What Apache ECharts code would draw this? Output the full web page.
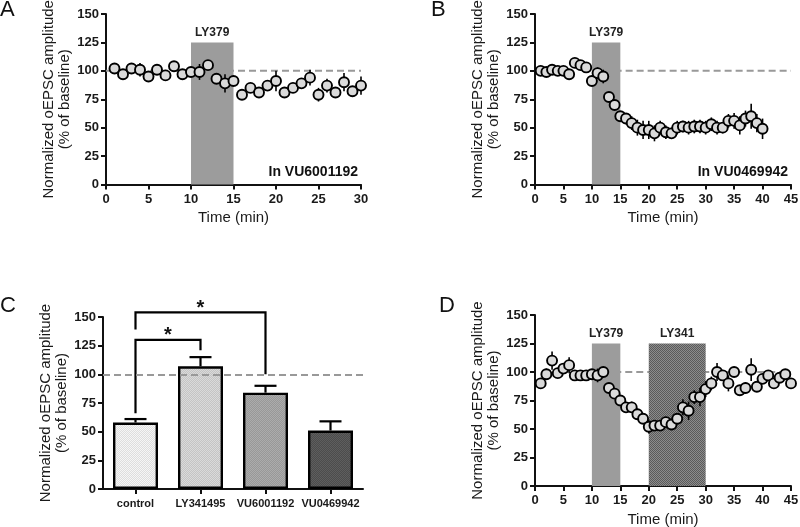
<!DOCTYPE html>
<html><head><meta charset="utf-8">
<script src="https://cdn.jsdelivr.net/npm/echarts@6/dist/echarts.min.js"></script>
<style>html,body{margin:0;padding:0;background:#fff}#c{width:800px;height:527px}</style>
</head><body><div id="c"></div><script>
// ---------- data ----------
const timeA = [1,2,3,4,5,6,7,8,9,10,11,12,13,14,15,16,17,18,19,20,21,22,23,24,25,26,27,28,29,30];
const meanA = [102,97,102,101,95,101,96,104,97,99,99,105,93,89,91,79,85,81,87,91,81,85,89,94,79,87,81,90,82,87];
const semA  = [3,3,3,6,4,4,4,3,3,3,7,4,4,8,3,3,4,4,4,9,3,3,4,7,6,6,3,8,3,8];

const timeB = [1,2,3,4,5,6,7,8,9,10,11,12,13,14,15,16,17,18,19,20,21,22,23,24,25,26,27,28,29,30,31,32,33,34,35,36,37,38,39,40];
const meanB = [100,99,101,100,100,97,107,105,103,91,98,95,77,70,60,58,54,50,48,48,45,50,46,45,50,51,50,51,51,50,53,50,50,56,56,52,58,60,54,49];
const semB  = [3,3,3,3,3,3,3,3,3,4,5,6,4,3,4,5,6,7,8,8,7,6,6,5,6,5,6,6,6,6,6,6,5,6,7,8,7,11,8,9];

const timeD = [1,2,3,4,5,6,7,8,9,10,11,12,13,14,15,16,17,18,19,20,21,22,23,24,25,26,27,28,29,30,31,32,33,34,35,36,37,38,39,40,41,42,43,44,45];
const meanD = [90,98,110,99,103,106,97,97,97,98,97,100,86,81,75,69,69,63,59,52,53,53,56,54,59,69,66,78,78,85,90,100,97,90,100,84,86,102,87,94,97,90,95,98,90];
const semD  = [4,5,8,3,4,7,3,3,3,4,6,3,3,3,3,5,5,5,4,6,3,3,3,5,4,7,8,6,8,7,6,8,4,7,3,4,5,10,4,4,3,3,3,4,3];

const groupsC = ['control','LY341495','VU6001192','VU0469942'];
const meanC = [58,107,84,51];
const semC  = [3,8,6,8];
// brackets: [fromGroup, toGroup, level, leftLegEnd, rightLegEnd]
const bracketsC = [[0,1,130,66,121],[0,2,154,139,100]];

// drug application boxes: [start, end, top]
const boxesA = [[10,15,125]]; const boxLabelsA = ['LY379'];
const boxesB = [[10,15,125]]; const boxLabelsB = ['LY379'];
const boxesD = [[10,15,125],[20,30,125]]; const boxLabelsD = ['LY379','LY341'];
// baseline dashed line spans [start, end] at 100 %
const baseline = 100;
const dashA = [0,30], dashB = [14,45], dashD = [12,45];

const xTicksMax = {A:30, B:45, D:45};
const yMax = 150, yStep = 25, xStep = 5;

// ---------- styling helpers ----------
const FONT = '"Liberation Sans", Arial, sans-serif';
function pattern(base, dot){
  const c = document.createElement('canvas'); c.width = 2; c.height = 2;
  const g = c.getContext('2d');
  g.fillStyle = base; g.fillRect(0,0,2,2);
  g.fillStyle = dot; g.fillRect(1,0,1,1); g.fillRect(0,1,1,1);
  return {image: c, repeat: 'repeat'};
}
const barFills = [pattern('#f6f6f6','#dedede'), pattern('#dadada','#c4c4c4'), pattern('#acacac','#989898'), pattern('#5e5e5e','#4c4c4c')];
const boxFillPlain = '#9c9c9c';
const boxFillHatch = pattern('#5a5a5a','#8c8c8c');

const axisLine = {show:true, onZero:false, lineStyle:{color:'#111', width:2}};
const axisTick = {show:true, length:5, lineStyle:{color:'#111', width:2}};
const tickLabel = {color:'#1a1a1a', fontSize:13, fontWeight:'bold', fontFamily:FONT, margin:7};
const yName = 'Normalized oEPSC amplitude\n(% of baseline)';

function xTime(gi, max){
  return {gridIndex:gi, type:'value', min:0, max:max, interval:xStep,
    axisLine, axisTick, axisLabel:Object.assign({}, tickLabel, {margin:8}), splitLine:{show:false},
    name:'Time (min)', nameLocation:'middle', nameGap:26,
    nameTextStyle:{color:'#1a1a1a', fontSize:15, fontFamily:FONT}};
}
function yPct(gi){
  return {gridIndex:gi, type:'value', min:0, max:yMax, interval:yStep,
    axisLine, axisTick, axisLabel:tickLabel, splitLine:{show:false},
    name:yName, nameLocation:'middle', nameGap:33,
    nameTextStyle:{color:'#1a1a1a', fontSize:15, fontFamily:FONT, lineHeight:16}};
}

function errRender(params, api){
  const x = api.value(0), y = api.value(1), e = api.value(2);
  const p1 = api.coord([x, y - e]), p2 = api.coord([x, y + e]);
  return {type:'line', shape:{x1:p1[0], y1:p1[1], x2:p2[0], y2:p2[1]}, style:{stroke:'#000', lineWidth:1.6}};
}
function boxRender(labels, fills){
  return function(params, api){
    const s = api.value(0), e = api.value(1), top = api.value(2);
    const p0 = api.coord([s, top]), p1 = api.coord([e, 0]);
    return {type:'group', children:[
      {type:'rect', shape:{x:p0[0], y:p0[1], width:p1[0]-p0[0], height:p1[1]-p0[1]}, style:{fill:fills[params.dataIndex]}},
      {type:'text', style:{text:labels[params.dataIndex], x:(p0[0]+p1[0])/2, y:p0[1]-4, align:'center', verticalAlign:'bottom',
        fill:'#222', font:'bold 12px ' + FONT}}
    ]};
  };
}
function timeSeries(gi, times, means, sems, boxes, labels, fills, dash){
  return [
    {type:'line', xAxisIndex:gi, yAxisIndex:gi, z:1, silent:true, symbol:'none',
      data:[[dash[0], baseline],[dash[1], baseline]], lineStyle:{color:'#999', width:2, type:[7,4]}},
    {type:'custom', xAxisIndex:gi, yAxisIndex:gi, z:2, silent:true, renderItem:boxRender(labels, fills),
      encode:{x:[0,1], y:2}, data:boxes},
    {type:'custom', xAxisIndex:gi, yAxisIndex:gi, z:3, silent:true, renderItem:errRender,
      encode:{x:0, y:1}, data:times.map((t,i)=>[t, means[i], sems[i]])},
    {type:'scatter', xAxisIndex:gi, yAxisIndex:gi, z:4, symbol:'circle', symbolSize:10,
      itemStyle:{color:'#dadada', borderColor:'#000', borderWidth:1.9, opacity:1},
      data:times.map((t,i)=>[t, means[i]])}
  ];
}

const chart = echarts.init(document.getElementById('c'), null, {renderer:'canvas'});
const gridBase = {outerBoundsMode:'none', containLabel:false};
const option = {
  backgroundColor:'#fff',
  animation:false,
  grid:[
    Object.assign({left:106, top:14, width:255, height:170.5}, gridBase),
    Object.assign({left:535, top:14, width:256, height:170.5}, gridBase),
    Object.assign({left:103, top:317, width:260, height:172}, gridBase),
    Object.assign({left:535, top:315, width:256, height:171}, gridBase)
  ],
  xAxis:[
    xTime(0, xTicksMax.A),
    xTime(1, xTicksMax.B),
    {gridIndex:2, type:'category', data:groupsC, boundaryGap:true,
      axisLine, axisTick:Object.assign({alignWithLabel:true}, axisTick),
      axisLabel:{color:'#1a1a1a', fontSize:11, fontWeight:'bold', fontFamily:FONT, margin:9, interval:0}},
    xTime(3, xTicksMax.D)
  ],
  yAxis:[yPct(0), yPct(1), yPct(2), yPct(3)],
  graphic:[
    {type:'text', left:0, top:-1, style:{text:'A', font:'22px ' + FONT, fill:'#111'}},
    {type:'text', left:431, top:-1, style:{text:'B', font:'22px ' + FONT, fill:'#111'}},
    {type:'text', left:0, top:295, style:{text:'C', font:'22px ' + FONT, fill:'#111'}},
    {type:'text', left:439, top:295, style:{text:'D', font:'22px ' + FONT, fill:'#111'}},
    {type:'text', right:442, top:165, style:{text:'In VU6001192', font:'bold 14px ' + FONT, fill:'#111'}},
    {type:'text', right:12, top:165, style:{text:'In VU0469942', font:'bold 14px ' + FONT, fill:'#111'}}
  ],
  series:[].concat(
    timeSeries(0, timeA, meanA, semA, boxesA, boxLabelsA, [boxFillPlain], dashA),
    timeSeries(1, timeB, meanB, semB, boxesB, boxLabelsB, [boxFillPlain], dashB),
    timeSeries(3, timeD, meanD, semD, boxesD, boxLabelsD, [boxFillPlain, boxFillHatch], dashD),
    [
      {type:'line', xAxisIndex:2, yAxisIndex:2, z:1, silent:true, data:[], symbol:'none',
        markLine:{silent:true, symbol:'none', label:{show:false}, lineStyle:{color:'#999', width:2, type:[7,4]},
          data:[{yAxis:baseline}]}},
      {type:'bar', xAxisIndex:2, yAxisIndex:2, z:2, barWidth:45,
        data:meanC.map((v,i)=>({value:v, itemStyle:{color:barFills[i], borderColor:'#000', borderWidth:2.4}}))},
      {type:'custom', xAxisIndex:2, yAxisIndex:2, z:3, silent:true, encode:{x:0, y:1},
        data:meanC.map((v,i)=>[i, v, semC[i]]),
        renderItem:function(params, api){
          const i = api.value(0), m = api.value(1), s = api.value(2);
          const p0 = api.coord([i, m]), p1 = api.coord([i, m + s]);
          return {type:'group', children:[
            {type:'line', shape:{x1:p0[0], y1:p0[1], x2:p1[0], y2:p1[1]}, style:{stroke:'#000', lineWidth:2.2}},
            {type:'line', shape:{x1:p1[0]-11, y1:p1[1], x2:p1[0]+11, y2:p1[1]}, style:{stroke:'#000', lineWidth:2.2}}
          ]};
        }},
      {type:'custom', xAxisIndex:2, yAxisIndex:2, z:4, silent:true, clip:false, encode:{x:[0,1], y:[2,3,4]},
        data:bracketsC,
        renderItem:function(params, api){
          const a = api.value(0), b = api.value(1), lvl = api.value(2), lb = api.value(3), rb = api.value(4);
          const pa0 = api.coord([a, lb]), pa1 = api.coord([a, lvl]), pb1 = api.coord([b, lvl]), pb0 = api.coord([b, rb]);
          return {type:'group', children:[
            {type:'polyline', shape:{points:[pa0, pa1, pb1, pb0]}, style:{stroke:'#000', lineWidth:2.2, fill:null}},
            {type:'text', style:{text:'*', x:(pa1[0]+pb1[0])/2, y:pa1[1]-4, align:'center', verticalAlign:'middle',
              fill:'#111', font:'bold 20px ' + FONT}}
          ]};
        }}
    ]
  )
};
chart.setOption(option);
</script></body></html>
